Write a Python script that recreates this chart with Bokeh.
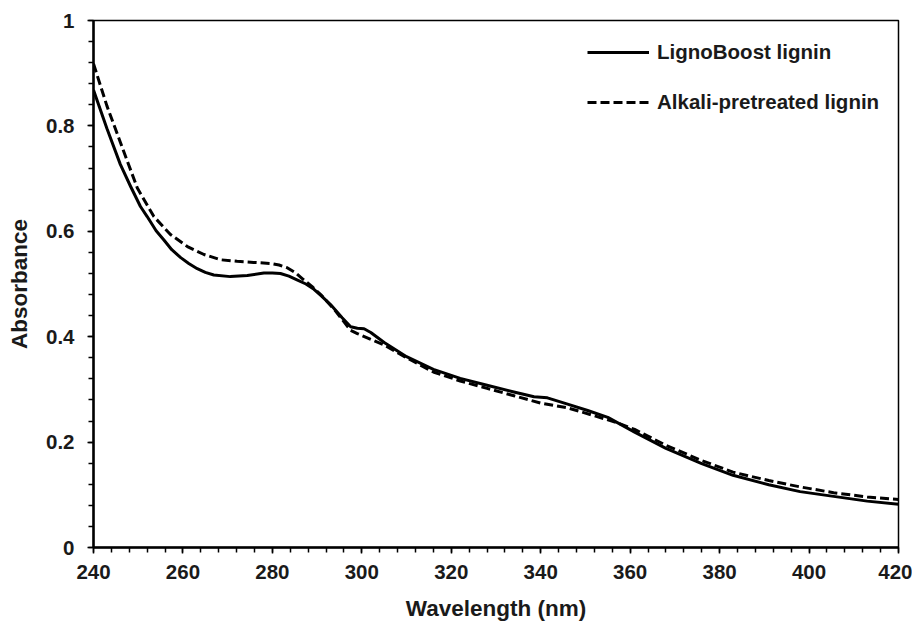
import numpy as np
from bokeh.plotting import figure
from bokeh.models import (Range1d, FixedTicker, CustomJSTickFormatter, Legend, LegendItem)
from bokeh.embed import file_html
from bokeh.resources import INLINE

# ---- data ----
wl_ligno = [240, 243, 246, 248.3, 250.5, 252, 254, 255.7, 257.5, 259.5, 261.3, 263.2, 265,
            266.9, 270.6, 274.4, 278.1, 280, 281.8, 283.7, 285.5, 287.5, 289.3, 291, 293,
            295.6, 297.5, 299, 300.5, 302, 305, 310, 316, 322, 328, 334, 338.5, 341.5, 346,
            350.5, 355, 361, 368, 376, 383, 391, 398, 405.5, 413, 420]
abs_ligno = [0.868, 0.795, 0.727, 0.685, 0.647, 0.628, 0.601, 0.584, 0.565, 0.550, 0.539,
             0.529, 0.522, 0.517, 0.514, 0.516, 0.521, 0.521, 0.520, 0.515, 0.508, 0.500,
             0.490, 0.477, 0.461, 0.436, 0.419, 0.416, 0.415, 0.408, 0.389, 0.362, 0.338,
             0.321, 0.308, 0.295, 0.286, 0.284, 0.272, 0.260, 0.247, 0.219, 0.188, 0.159,
             0.137, 0.119, 0.106, 0.097, 0.088, 0.082]

wl_alkali = [240, 243, 246, 249.8, 253.5, 257.2, 261, 264.7, 268.4, 272.1, 275.8, 279.6,
             281.5, 283.3, 285.2, 287, 288.9, 290.8, 294, 297.5, 299, 305, 310, 316, 322,
             328, 334, 340, 346, 352, 357, 361, 368, 376, 383, 391, 398, 405.5, 413, 420]
abs_alkali = [0.918, 0.838, 0.769, 0.682, 0.628, 0.594, 0.571, 0.556, 0.546, 0.543, 0.541,
              0.539, 0.536, 0.531, 0.521, 0.508, 0.495, 0.480, 0.450, 0.412, 0.406, 0.384,
              0.360, 0.333, 0.316, 0.302, 0.288, 0.274, 0.265, 0.250, 0.237, 0.224, 0.194,
              0.165, 0.143, 0.127, 0.115, 0.104, 0.096, 0.091]

series_names = ["LignoBoost lignin", "Alkali-pretreated lignin"]
x_major = [240, 260, 280, 300, 320, 340, 360, 380, 400, 420]
y_major = [0, 0.2, 0.4, 0.6, 0.8, 1.0]
x_minor = [float(v) for v in np.arange(240, 421, 4)]
y_minor = [round(float(v), 2) for v in np.arange(0, 1.001, 0.04)]

FONT = "Liberation Sans"

p = figure(width=912, height=623, output_backend="svg", toolbar_location=None,
           x_range=Range1d(240, 420), y_range=Range1d(0, 1),
           min_border_left=93, min_border_right=14, min_border_top=20, min_border_bottom=74)
p.background_fill_color = "white"
p.border_fill_color = "white"
p.grid.visible = False
p.outline_line_color = "black"
p.outline_line_width = 1.5

r1 = p.line(wl_ligno, abs_ligno, line_color="black", line_width=3, line_join="round")
r2 = p.line(wl_alkali, abs_alkali, line_color="black", line_width=3, line_dash="9 4",
            line_join="round")

p.xaxis.ticker = FixedTicker(ticks=x_major, minor_ticks=x_minor)
p.yaxis.ticker = FixedTicker(ticks=y_major, minor_ticks=y_minor)
p.yaxis.formatter = CustomJSTickFormatter(code="return String(Math.round(tick*10)/10);")

for ax in (p.xaxis, p.yaxis):
    ax.axis_line_width = 2.5
    ax.axis_line_color = "black"
    ax.major_tick_line_width = 1.5
    ax.minor_tick_line_width = 1.5
    ax.major_tick_in = 0
    ax.major_tick_out = 6
    ax.minor_tick_in = 0
    ax.minor_tick_out = 5
    ax.major_label_text_font = FONT
    ax.major_label_text_font_style = "bold"
    ax.major_label_text_font_size = "20.5px"
    ax.major_label_text_color = "#1a1a1a"
    ax.axis_label_text_font = FONT
    ax.axis_label_text_font_style = "bold"
    ax.axis_label_text_font_size = "22.5px"
    ax.axis_label_text_color = "#1a1a1a"

p.xaxis.axis_label = "Wavelength (nm)"
p.yaxis.axis_label = "Absorbance"
p.xaxis.major_label_standoff = 11
p.xaxis.axis_label_standoff = 14
p.yaxis.major_label_standoff = 13
p.yaxis.axis_label_standoff = 11

legend = Legend(items=[LegendItem(label=series_names[0], renderers=[r1]),
                       LegendItem(label=series_names[1], renderers=[r2])],
                location=(494, 433), orientation="vertical",
                glyph_width=62, glyph_height=24, label_height=24, spacing=26,
                label_standoff=8, padding=0, margin=0,
                border_line_color=None, background_fill_alpha=0,
                label_text_font=FONT, label_text_font_style="bold",
                label_text_font_size="20.5px", label_text_color="#1a1a1a")
p.add_layout(legend)

open("out.html", "w").write(file_html(p, INLINE))
